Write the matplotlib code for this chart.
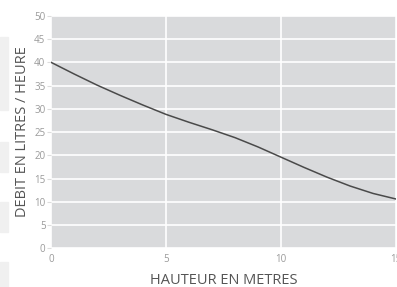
import matplotlib
matplotlib.use("Agg")
import matplotlib.pyplot as plt
from matplotlib.patches import Rectangle

# flow rate vs. head height
HAUTEUR = [0, 1, 2, 3, 4, 5, 6, 7, 8, 9, 10, 11, 12, 13, 14, 15]
DEBIT = [40, 37.5, 35.1, 32.9, 30.8, 28.8, 27.1, 25.5, 23.8, 21.8,
         19.6, 17.4, 15.3, 13.4, 11.8, 10.6]
X_TICKS = [0, 5, 10, 15]
Y_TICKS = [0, 5, 10, 15, 20, 25, 30, 35, 40, 45, 50]

plt.rcParams["font.family"] = ["Open Sans", "DejaVu Sans"]

fig = plt.figure(figsize=(3.97, 2.87), dpi=100)

# faint page-background blocks on the left edge
for y0, y1 in [(37, 110), (142, 172), (202, 232), (262, 287)]:
    fig.patches.append(Rectangle((0, 1 - y1 / 287), 8 / 397, (y1 - y0) / 287,
                                 transform=fig.transFigure, color="#f0f0f0",
                                 zorder=0))

ax = fig.add_axes([51 / 397, (287 - 248.3) / 287, 345 / 397, 232.5 / 287])
ax.set_facecolor("#d9dadc")
ax.plot(HAUTEUR, DEBIT, color="#4a4a4a", linewidth=1.1, zorder=3)

ax.set_xlim(0, 15)
ax.set_ylim(0, 50)
ax.set_xticks(X_TICKS)
ax.set_yticks(Y_TICKS)
ax.grid(color="white", linewidth=1.2, zorder=1)
ax.set_axisbelow(True)
for s in ax.spines.values():
    s.set_visible(False)
ax.tick_params(axis="both", colors="#dddddd", labelcolor="#9a9a9a",
               labelsize=7, length=3, width=0.8, pad=1)
ax.tick_params(axis="x", length=0, pad=4)

ax.set_xlabel("HAUTEUR EN METRES", fontsize=10.5, color="#555555", labelpad=6)
ax.set_ylabel("DEBIT EN LITRES / HEURE", fontsize=10.5, color="#555555",
              labelpad=3)

fig.savefig("out.png", dpi=100)
